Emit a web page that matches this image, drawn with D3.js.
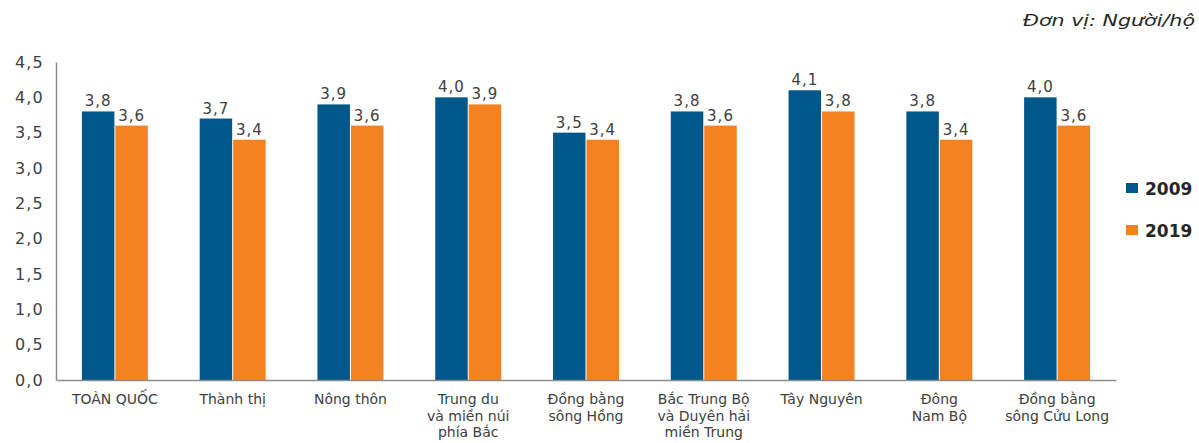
<!DOCTYPE html>
<html>
<head>
<meta charset="utf-8">
<script src="https://cdn.jsdelivr.net/npm/d3@7/dist/d3.min.js"></script>
<style>
  body { margin: 0; background: #fff; }
  svg { display: block; font-family: "DejaVu Sans", Verdana, sans-serif; }
</style>
</head>
<body>
<div id="chart"></div>
<script>
var categories = [
    ["TOÀN QUỐC"],
    ["Thành thị"],
    ["Nông thôn"],
    ["Trung du", "và miền núi", "phía Bắc"],
    ["Đồng bằng", "sông Hồng"],
    ["Bắc Trung Bộ", "và Duyên hải", "miền Trung"],
    ["Tây Nguyên"],
    ["Đông", "Nam Bộ"],
    ["Đồng bằng", "sông Cửu Long"]
];
var values2009 = [3.8, 3.7, 3.9, 4.0, 3.5, 3.8, 4.1, 3.8, 4.0];
var values2019 = [3.6, 3.4, 3.6, 3.9, 3.4, 3.6, 3.8, 3.4, 3.6];
var seriesNames = ["2009", "2019"];
var yTicks = [0, 0.5, 1, 1.5, 2, 2.5, 3, 3.5, 4, 4.5];

var width = 1199, height = 443;
var margin = {left: 56, right: 83, top: 62, bottom: 63};
var colors = ["#00578a", "#f58220"];
var textColor = "#404040";
var fmt = function(v){ return d3.format(".1f")(v).replace(".", ","); };

var svg = d3.select("#chart").append("svg").attr("width", width).attr("height", height);
var plotW = width - margin.left - margin.right;
var plotH = height - margin.top - margin.bottom;
var g = svg.append("g").attr("transform", "translate(" + margin.left + "," + margin.top + ")");

var idx = categories.map(function(d, i){ return i; });
var x = d3.scaleBand().domain(idx).range([0, plotW]).paddingInner(0.44).paddingOuter(0.22);
var x1 = d3.scaleBand().domain([0, 1]).range([0, x.bandwidth()]).paddingInner(0.03);
var y = d3.scaleLinear().domain([0, 4.5]).range([plotH, 0]);

var series = [values2009, values2019];
series.forEach(function(vals, s){
    g.selectAll(".bar" + s).data(vals).enter().append("rect")
        .attr("x", function(d, i){ return x(i) + x1(s); })
        .attr("width", x1.bandwidth())
        .attr("y", function(d){ return y(d); })
        .attr("height", function(d){ return plotH - y(d); })
        .attr("fill", colors[s]);
    g.selectAll(".lbl" + s).data(vals).enter().append("text")
        .attr("x", function(d, i){ return x(i) + x1(s) + x1.bandwidth() / 2; })
        .attr("y", function(d){ return y(d) - 5; })
        .attr("text-anchor", "middle")
        .attr("font-size", 15)
        .attr("letter-spacing", 1)
        .attr("fill", textColor)
        .text(function(d){ return fmt(d); });
});

// y axis
var yAxis = g.append("g").call(d3.axisLeft(y).tickValues(yTicks).tickSize(0).tickPadding(12).tickFormat(fmt));
yAxis.select(".domain").attr("stroke", "#8c8c8c").attr("stroke-width", 1.5);
yAxis.selectAll("text").attr("font-size", 16).attr("letter-spacing", 1.2)
    .attr("fill", textColor).attr("font-family", "DejaVu Sans");

// x axis
var xAxis = g.append("g").attr("transform", "translate(0," + plotH + ")")
    .call(d3.axisBottom(x).tickSize(0).tickFormat(""));
xAxis.select(".domain").attr("stroke", "#8c8c8c").attr("stroke-width", 1.5);
xAxis.selectAll(".tick").each(function(d){
    var t = d3.select(this).append("text")
        .attr("text-anchor", "middle")
        .attr("font-size", 14)
        .attr("fill", textColor)
        .attr("font-family", "DejaVu Sans");
    categories[d].forEach(function(line, j){
        t.append("tspan").attr("x", 0).attr("y", 24 + j * 16.5).text(line);
    });
});

// legend
var legend = svg.append("g").attr("transform", "translate(1126,183)");
seriesNames.forEach(function(name, i){
    var lg = legend.append("g").attr("transform", "translate(0," + (i * 42) + ")");
    lg.append("rect").attr("width", 12).attr("height", 10).attr("fill", colors[i]);
    lg.append("text").attr("x", 19).attr("y", 12).attr("font-size", 17)
        .attr("font-weight", "bold").attr("fill", "#262626").text(name);
});

// unit note
svg.append("text").attr("x", 1023).attr("y", 26)
    .attr("font-size", 15).attr("font-style", "italic")
    .attr("textLength", 172).attr("lengthAdjust", "spacingAndGlyphs")
    .attr("fill", "#262626")
    .text("Đơn vị: Người/hộ");
</script>
</body>
</html>
